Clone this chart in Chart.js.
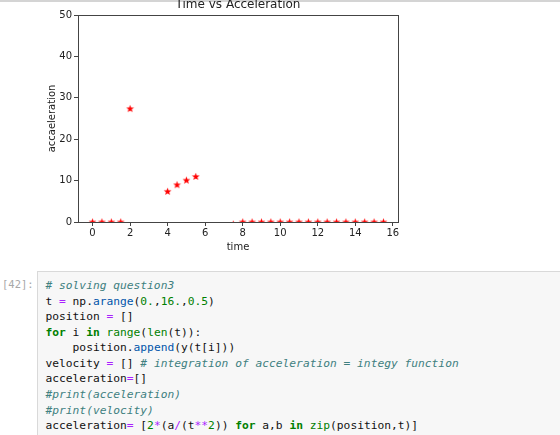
<!DOCTYPE html>
<html>
<head>
<meta charset="utf-8">
<script src="https://cdn.jsdelivr.net/npm/chart.js@4/dist/chart.umd.min.js"></script>
<style>
  body { margin: 0; background: #fff; width: 560px; height: 435px; overflow: hidden; position: relative; }
  #topline { position: absolute; left: 0; top: 0; width: 560px; height: 2px; background: #d4d4d4; }
  #plot { position: absolute; left: 0; top: -8px; }
  .prompt { position: absolute; left: 2px; top: 277px; font-family: "DejaVu Sans Mono", monospace; font-size: 10.5px; color: #a8a8a8; line-height: 15.6px; }
  #cell { position: absolute; left: 37px; top: 271px; width: 540px; height: 180px; background: #f7f7f7; border: 1px solid #d9d9d9; }
  #cell pre { margin: 0; padding: 6px 0 0 7.5px; font-family: "DejaVu Sans Mono", monospace; font-size: 11.25px; line-height: 15.56px; color: #111; }
  .c { color: #408080; font-style: italic; }
  .o { color: #aa22ff; }
  .n { color: #008000; }
  .k { color: #008000; font-weight: bold; }
  .b { color: #008000; }
  .p { color: #0055aa; }
</style>
</head>
<body>
<div id="topline"></div>
<canvas id="plot" width="420" height="270"></canvas>
<div class="prompt">[42]:</div>
<div id="cell"><pre><span class="c"># solving question3</span>
t <span class="o">=</span> np.<span class="p">arange</span>(<span class="n">0.</span>,<span class="n">16.</span>,<span class="n">0.5</span>)
position <span class="o">=</span> []
<span class="k">for</span> i <span class="k">in</span> <span class="b">range</span>(<span class="b">len</span>(t)):
    position.<span class="p">append</span>(y(t[i]))
velocity <span class="o">=</span> [] <span class="c"># integration of acceleration = integy function</span>
acceleration<span class="o">=</span>[]
<span class="c">#print(acceleration)</span>
<span class="c">#print(velocity)</span>
acceleration<span class="o">=</span> [<span class="n">2</span><span class="o">*</span>(a<span class="o">/</span>(t<span class="o">**</span><span class="n">2</span>)) <span class="k">for</span> a,b <span class="k">in</span> <span class="b">zip</span>(position,t)]</pre></div>

<script>
const timeValues = [0, 0.5, 1, 1.5, 2, 2.5, 3, 3.5, 4, 4.5, 5, 5.5, 6, 6.5, 7, 7.5,
                    8, 8.5, 9, 9.5, 10, 10.5, 11, 11.5, 12, 12.5, 13, 13.5, 14, 14.5, 15, 15.5];
const accelValues = [0, 0, 0, 0, 27.4, null, null, null, 7.4, 9.0, 10.1, 11.0, null, null, null, -0.5,
                     0, 0, 0, 0, 0, 0, 0, 0, 0, 0, 0, 0, 0, 0, 0, 0];
const xTicks = [0, 2, 4, 6, 8, 10, 12, 14, 16];
const yTicks = [0, 10, 20, 30, 40, 50];

const points = [];
timeValues.forEach((t, i) => {
  if (accelValues[i] !== null) points.push({ x: t, y: accelValues[i] });
});

// filled star like matplotlib's '*' marker
function makeStar(color) {
  const c = document.createElement("canvas");
  c.width = 9; c.height = 9;
  const g = c.getContext("2d");
  g.fillStyle = color;
  g.beginPath();
  for (let k = 0; k < 10; k++) {
    const r = k % 2 === 0 ? 4.1 : 1.75;
    const a = -Math.PI / 2 + k * Math.PI / 5;
    const px = 4.5 + r * Math.cos(a), py = 4.8 + r * Math.sin(a);
    k === 0 ? g.moveTo(px, py) : g.lineTo(px, py);
  }
  g.closePath();
  g.fill();
  return c;
}

const frame = {
  id: "frame",
  afterDatasetsDraw(chart) {
    const { ctx, chartArea: a } = chart;
    ctx.save();
    ctx.strokeStyle = "#444";
    ctx.lineWidth = 1;
    ctx.strokeRect(Math.round(a.left) + 0.5, Math.round(a.top) + 0.5,
      Math.round(a.right - a.left), Math.round(a.bottom - a.top));
    ctx.restore();
  }
};

const tickFont = { family: "DejaVu Sans", size: 10 };

new Chart(document.getElementById("plot").getContext("2d"), {
  type: "scatter",
  data: {
    datasets: [{
      label: "acceleration",
      data: points,
      pointStyle: makeStar("#ff0000"),
      pointRadius: 4,
      clip: 0
    }]
  },
  options: {
    responsive: false,
    animation: false,
    devicePixelRatio: 1,
    layout: { padding: { left: 0, right: 22, top: 0, bottom: 0 } },
    plugins: {
      legend: { display: false },
      tooltip: { enabled: false },
      title: {
        display: true,
        text: "Time vs Acceleration",
        fullSize: false,
        color: "#222",
        font: { family: "DejaVu Sans", size: 12, weight: "normal" },
        padding: { top: 6, bottom: 2.6 }
      }
    },
    scales: {
      x: {
        type: "linear",
        min: -0.775,
        max: 16.275,
        afterBuildTicks: s => { s.ticks = xTicks.map(v => ({ value: v })); },
        afterFit: s => { s.height = 40; },
        grid: { drawOnChartArea: false, drawTicks: true, tickLength: 4, color: "#444" },
        border: { color: "#444" },
        ticks: { color: "#222", font: tickFont, padding: 1, maxRotation: 0 },
        title: { display: true, text: "time", color: "#222", font: tickFont, padding: { top: 0, bottom: 9 } }
      },
      y: {
        min: 0,
        max: 50,
        afterBuildTicks: s => { s.ticks = yTicks.map(v => ({ value: v })); },
        afterFit: s => { s.width = 78; },
        grid: { drawOnChartArea: false, drawTicks: true, tickLength: 4, color: "#444" },
        border: { color: "#444" },
        ticks: { color: "#222", font: tickFont, padding: 2 },
        title: { display: true, text: "accaeleration", color: "#222", font: tickFont, padding: { top: 46, bottom: 0 } }
      }
    }
  },
  plugins: [frame]
});
</script>
</body>
</html>
